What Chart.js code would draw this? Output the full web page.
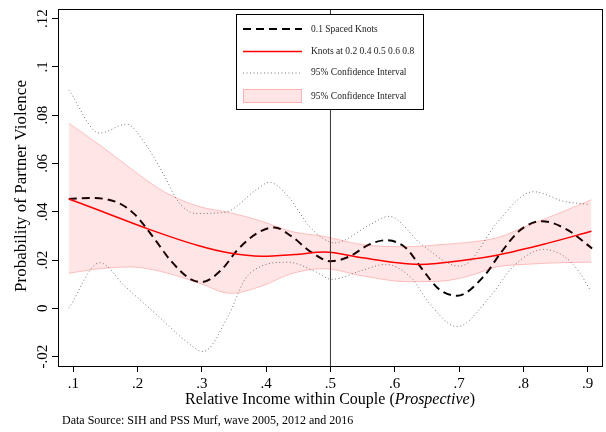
<!DOCTYPE html>
<html>
<head>
<meta charset="utf-8">
<script src="https://cdn.jsdelivr.net/npm/chart.js@4"></script>
<style>
  html, body { margin: 0; padding: 0; background: #fff; }
  #wrap { width: 606px; height: 432px; }
</style>
</head>
<body>
<div id="wrap"><canvas id="chart" width="606" height="432"></canvas></div>
<script>
// axis ticks
let xTicks = [0.1, 0.2, 0.3, 0.4, 0.5, 0.6, 0.7, 0.8, 0.9];
let xTickLabels = [".1", ".2", ".3", ".4", ".5", ".6", ".7", ".8", ".9"];
let yTicks = [-0.02, 0, 0.02, 0.04, 0.06, 0.08, 0.1, 0.12];
let yTickLabels = ["-.02", "0", ".02", ".04", ".06", ".08", ".1", ".12"];
let xMin = 0.0762, xMax = 0.9224;
let yMin = -0.0239, yMax = 0.124;

// 0.1 spaced knots (dashed)
let knotsX = [0.093, 0.128, 0.170, 0.196, 0.227, 0.252, 0.283, 0.300, 0.331, 0.356, 0.387, 0.413, 0.439, 0.470, 0.500, 0.529, 0.560, 0.586, 0.617, 0.643, 0.669, 0.697, 0.739, 0.765, 0.796, 0.829, 0.868, 0.907];
let knotsY = [0.0453, 0.0457, 0.0437, 0.0388, 0.0285, 0.0196, 0.0120, 0.0109, 0.0161, 0.0244, 0.0313, 0.0335, 0.0299, 0.0233, 0.0195, 0.0214, 0.0264, 0.0282, 0.0251, 0.0161, 0.0079, 0.0052, 0.0134, 0.0230, 0.0326, 0.0361, 0.0326, 0.0248];

// knots at 0.2 0.4 0.5 0.6 0.8 (red)
let fitX = [0.093, 0.144, 0.216, 0.294, 0.341, 0.393, 0.444, 0.490, 0.550, 0.600, 0.638, 0.716, 0.759, 0.837, 0.906];
let fitY = [0.0453, 0.0402, 0.0329, 0.0260, 0.0230, 0.0216, 0.0223, 0.0233, 0.0209, 0.0190, 0.0182, 0.0202, 0.0220, 0.0269, 0.0319];

// dotted confidence interval
let ciUpX = [0.093, 0.141, 0.183, 0.211, 0.242, 0.263, 0.291, 0.336, 0.385, 0.405, 0.434, 0.467, 0.491, 0.506, 0.560, 0.591, 0.643, 0.700, 0.716, 0.759, 0.816, 0.863, 0.904];
let ciUpY = [0.0905, 0.0726, 0.0763, 0.0685, 0.0547, 0.0443, 0.0393, 0.0398, 0.0492, 0.0522, 0.0464, 0.0340, 0.0285, 0.0271, 0.0344, 0.0381, 0.0262, 0.0175, 0.0192, 0.0354, 0.0483, 0.0443, 0.0430];
let ciLoX = [0.093, 0.141, 0.180, 0.232, 0.278, 0.302, 0.341, 0.367, 0.393, 0.434, 0.475, 0.502, 0.550, 0.586, 0.628, 0.653, 0.697, 0.749, 0.785, 0.832, 0.863, 0.886, 0.904];
let ciLoY = [0.0000, 0.0189, 0.0092, -0.0032, -0.0142, -0.0179, -0.0032, 0.0120, 0.0175, 0.0191, 0.0154, 0.0120, 0.0158, 0.0182, 0.0120, 0.0023, -0.0076, 0.0051, 0.0175, 0.0244, 0.0216, 0.0154, 0.0076];

// shaded confidence interval
let bandX = [0.093, 0.144, 0.190, 0.240, 0.294, 0.345, 0.393, 0.440, 0.490, 0.550, 0.620, 0.670, 0.716, 0.760, 0.810, 0.860, 0.906];
let bandUp = [0.0767, 0.0671, 0.0578, 0.0485, 0.0423, 0.0396, 0.0361, 0.0318, 0.0298, 0.0264, 0.0255, 0.0264, 0.0274, 0.0293, 0.0346, 0.0399, 0.0450];
let bandLo = [0.0145, 0.0165, 0.0171, 0.0150, 0.0106, 0.0062, 0.0092, 0.0144, 0.0164, 0.0134, 0.0110, 0.0112, 0.0134, 0.0172, 0.0183, 0.0189, 0.0191];

let refX = 0.5;

let serif = '"Liberation Serif", "Times New Roman", serif';
let bandFill = "rgba(255,0,0,0.10)";
let bandEdge = "rgba(255,0,0,0.22)";

const pts = (xs, ys) => xs.map((x, i) => ({ x: x, y: ys[i] }));

// text, frame and legend
const decor = {
  id: "decor",
  afterDatasetsDraw(chart) {
    let ctx = chart.ctx;
    let a = chart.chartArea;
    ctx.save();
    ctx.strokeStyle = "#000";
    ctx.lineWidth = 1;
    ctx.strokeRect(Math.round(a.left) + 0.5, Math.round(a.top) + 0.5, Math.round(a.right - a.left), Math.round(a.bottom - a.top));
    ctx.restore();
  },
  afterDraw(chart) {
    let ctx = chart.ctx;
    let a = chart.chartArea;
    let ys = chart.scales.y;
    ctx.save();
    ctx.fillStyle = "#000";

    // y tick labels (rotated)
    ctx.font = "15px " + serif;
    ctx.textAlign = "center";
    ctx.textBaseline = "alphabetic";
    yTicks.forEach((v, i) => {
      let py = ys.getPixelForValue(v);
      ctx.save();
      ctx.translate(47, py);
      ctx.rotate(-Math.PI / 2);
      ctx.fillText(yTickLabels[i], 0, 0);
      ctx.restore();
    });

    // y title
    ctx.font = "17px " + serif;
    ctx.textBaseline = "middle";
    ctx.save();
    ctx.translate(22, 186);
    ctx.rotate(-Math.PI / 2);
    ctx.fillText("Probability of Partner Violence", 0, 0);
    ctx.restore();

    // x title with italic part
    let parts = [["Relative Income within Couple (", ""], ["Prospective", "italic "], [")", ""]];
    let total = 0;
    parts.forEach((p) => { ctx.font = p[1] + "16px " + serif; total += ctx.measureText(p[0]).width; });
    let px = (a.left + a.right) / 2 - total / 2;
    ctx.textAlign = "left";
    parts.forEach((p) => {
      ctx.font = p[1] + "16px " + serif;
      ctx.fillText(p[0], px, 400);
      px += ctx.measureText(p[0]).width;
    });

    // source note
    ctx.font = "12px " + serif;
    ctx.fillText("Data Source: SIH and PSS Murf, wave 2005, 2012 and 2016", 62, 421);

    // legend
    let lx = 236.5, ly = 14.5, lw = 187, lh = 95;
    ctx.fillStyle = "#fff";
    ctx.fillRect(lx, ly, lw, lh);
    ctx.strokeStyle = "#000";
    ctx.lineWidth = 1;
    ctx.strokeRect(lx, ly, lw, lh);
    let rows = [29, 51.5, 72.5, 96];
    let sx0 = 243, sx1 = 302, tx = 311;
    // dashed
    ctx.strokeStyle = "#000";
    ctx.lineWidth = 2;
    ctx.setLineDash([8, 5]);
    ctx.beginPath(); ctx.moveTo(sx0, rows[0]); ctx.lineTo(sx1, rows[0]); ctx.stroke();
    // red
    ctx.setLineDash([]);
    ctx.strokeStyle = "#ff0000";
    ctx.lineWidth = 1.5;
    ctx.beginPath(); ctx.moveTo(sx0, rows[1]); ctx.lineTo(sx1, rows[1]); ctx.stroke();
    // dotted
    ctx.strokeStyle = "#777";
    ctx.lineWidth = 1;
    ctx.setLineDash([1, 2.5]);
    ctx.beginPath(); ctx.moveTo(sx0, rows[2] + 0.5); ctx.lineTo(sx1, rows[2] + 0.5); ctx.stroke();
    ctx.setLineDash([]);
    // band
    ctx.fillStyle = bandFill;
    ctx.fillRect(sx0, rows[3] - 7, sx1 - sx0, 14);
    ctx.strokeStyle = bandEdge;
    ctx.strokeRect(sx0 + 0.5, rows[3] - 6.5, sx1 - sx0 - 1, 13);

    ctx.fillStyle = "#222";
    ctx.font = "9.5px " + serif;
    ctx.textBaseline = "middle";
    let names = ["0.1 Spaced Knots", "Knots at 0.2 0.4 0.5 0.6 0.8", "95% Confidence Interval", "95% Confidence Interval"];
    names.forEach((n, i) => ctx.fillText(n, tx, rows[i]));
    ctx.restore();
  }
};

const config = {
  type: "line",
  data: {
    datasets: [
      {
        label: "band low",
        data: pts(bandX, bandLo),
        borderColor: bandEdge,
        borderWidth: 1,
        backgroundColor: bandFill,
        fill: "+1",
        pointRadius: 0,
        cubicInterpolationMode: "monotone",
      },
      {
        label: "95% Confidence Interval",
        data: pts(bandX, bandUp),
        borderColor: bandEdge,
        borderWidth: 1,
        fill: false,
        pointRadius: 0,
        cubicInterpolationMode: "monotone",
      },
      {
        label: "ci up",
        data: pts(ciUpX, ciUpY),
        borderColor: "#777",
        borderWidth: 1,
        borderDash: [1, 2.5],
        fill: false,
        pointRadius: 0,
        cubicInterpolationMode: "monotone",
      },
      {
        label: "95% Confidence Interval",
        data: pts(ciLoX, ciLoY),
        borderColor: "#777",
        borderWidth: 1,
        borderDash: [1, 2.5],
        fill: false,
        pointRadius: 0,
        cubicInterpolationMode: "monotone",
      },
      {
        label: "ref",
        data: [{ x: refX, y: yMin }, { x: refX, y: yMax }],
        borderColor: "#333",
        borderWidth: 1,
        fill: false,
        pointRadius: 0,
      },
      {
        label: "Knots at 0.2 0.4 0.5 0.6 0.8",
        data: pts(fitX, fitY),
        borderColor: "#ff0000",
        borderWidth: 1.5,
        fill: false,
        pointRadius: 0,
        cubicInterpolationMode: "monotone",
      },
      {
        label: "0.1 Spaced Knots",
        data: pts(knotsX, knotsY),
        borderColor: "#000",
        borderWidth: 2,
        borderDash: [8, 5],
        fill: false,
        pointRadius: 0,
        cubicInterpolationMode: "monotone",
      },
    ],
  },
  options: {
    responsive: false,
    animation: false,
    layout: { padding: { left: 0, top: 9, right: 4, bottom: 0 } },
    scales: {
      x: {
        type: "linear",
        min: xMin,
        max: xMax,
        afterBuildTicks: (s) => { s.ticks = xTicks.map((v) => ({ value: v })); },
        afterFit: (s) => { s.height = 66; },
        grid: { drawOnChartArea: false, drawTicks: true, tickLength: 6, color: "#000", tickColor: "#000" },
        border: { display: true, color: "#000", width: 1 },
        ticks: {
          autoSkip: false,
          maxRotation: 0,
          padding: 3,
          color: "#000",
          font: { family: serif, size: 15 },
          callback: (v, i) => xTickLabels[i],
        },
      },
      y: {
        type: "linear",
        min: yMin,
        max: yMax,
        afterBuildTicks: (s) => { s.ticks = yTicks.map((v) => ({ value: v })); },
        afterFit: (s) => { s.width = 58; },
        grid: { drawOnChartArea: false, drawTicks: true, tickLength: 6, color: "#000", tickColor: "#000" },
        border: { display: true, color: "#000", width: 1 },
        ticks: { display: false },
      },
    },
    plugins: {
      legend: { display: false },
      tooltip: { enabled: false },
    },
  },
  plugins: [decor],
};

let chart = new Chart(document.getElementById("chart"), config);
</script>
</body>
</html>
